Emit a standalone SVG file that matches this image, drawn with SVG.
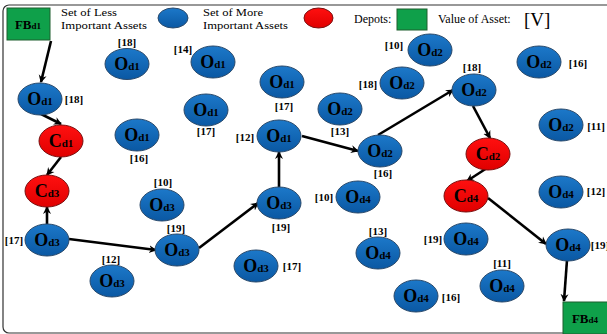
<svg xmlns="http://www.w3.org/2000/svg" width="607" height="334" viewBox="0 0 607 334">
<defs>
<linearGradient id="gb" x1="0" y1="0" x2="0" y2="1"><stop offset="0" stop-color="#1C78C9"/><stop offset="1" stop-color="#0A58A3"/></linearGradient>
<linearGradient id="gr" x1="0" y1="0" x2="0" y2="1"><stop offset="0" stop-color="#FF1010"/><stop offset="1" stop-color="#E00000"/></linearGradient>
<marker id="ah" markerUnits="userSpaceOnUse" markerWidth="9" markerHeight="9" refX="7" refY="4.5" orient="auto"><path d="M0,0.5 L8,4.5 L0,8.5 L2.5,4.5 z" fill="#000"/></marker>
<style>
.b{fill:url(#gb);stroke:#2B4A6B;stroke-width:1}
.r{fill:url(#gr);stroke:#7A1010;stroke-width:1}
.g{fill:#0FA04A;stroke:#1E5E2E;stroke-width:1}
.n{font-family:"Liberation Serif",serif;font-weight:bold;font-size:18px;fill:#000;text-anchor:middle}
.s{font-size:11px}
.l{font-family:"Liberation Serif",serif;font-weight:bold;font-size:11px;fill:#000;text-anchor:middle}
.t{font-family:"Liberation Serif",serif;font-size:12px;fill:#000}
.t2{font-family:"Liberation Serif",serif;font-size:10.5px;fill:#000}
.c{fill:none;stroke:#000;stroke-width:2.6;marker-end:url(#ah)}
</style>
</defs>
<rect x="3" y="5" width="660" height="328" rx="6" fill="#fff" stroke="#333" stroke-width="1.2"/>

<g id="legend">
<text class="t2" x="61" y="16" textLength="56" lengthAdjust="spacingAndGlyphs">Set of Less</text>
<text class="t2" x="61" y="28.5" textLength="86" lengthAdjust="spacingAndGlyphs">Important Assets</text>
<ellipse cx="173" cy="18" rx="15" ry="10" class="b"/>
<text class="t2" x="203" y="16" textLength="60" lengthAdjust="spacingAndGlyphs">Set of More</text>
<text class="t2" x="203" y="28.5" textLength="85" lengthAdjust="spacingAndGlyphs">Important Assets</text>
<ellipse cx="318.5" cy="18" rx="14.5" ry="10" class="r"/>
<text class="t" x="354" y="23">Depots:</text>
<rect x="397" y="9" width="30" height="21" class="g"/>
<text class="t" x="438" y="23">Value of Asset:</text>
<text class="t" x="524" y="26" style="font-size:19px">[V]</text>
</g>

<g id="connectors">
<line class="c" x1="51" y1="41" x2="41" y2="82"/>
<line class="c" x1="41" y1="114" x2="61" y2="124"/>
<line class="c" x1="61" y1="157" x2="47" y2="175"/>
<line class="c" x1="47" y1="224" x2="47" y2="207"/>
<line class="c" x1="69" y1="239" x2="156" y2="250"/>
<line class="c" x1="199" y1="248" x2="258" y2="203"/>
<line class="c" x1="279" y1="187" x2="279" y2="152"/>
<line class="c" x1="302" y1="136" x2="358" y2="151"/>
<line class="c" x1="378" y1="135" x2="453" y2="90"/>
<line class="c" x1="473" y1="106" x2="490" y2="138"/>
<line class="c" x1="487" y1="168" x2="467" y2="181"/>
<line class="c" x1="488" y1="198" x2="546" y2="244"/>
<line class="c" x1="567" y1="260" x2="564" y2="301"/>
</g>

<g id="FBd1"><rect x="7" y="8" width="43" height="32" class="g"/><text class="n" x="28" y="29" style="font-size:13px">FB<tspan class="s" style="font-size:9px">d1</tspan></text></g>
<g id="FBd4"><rect x="563" y="302" width="48" height="32" class="g"/><text class="n" x="585" y="323" style="font-size:13px">FB<tspan class="s" style="font-size:9px">d4</tspan></text></g>

<g id="od1a"><ellipse cx="127" cy="64" rx="22" ry="15.5" class="b"/><text class="n" x="127" y="70">O<tspan class="s">d1</tspan></text><text class="l" x="127" y="46">[18]</text></g>
<g id="od1b"><ellipse cx="213" cy="62" rx="22" ry="16" class="b"/><text class="n" x="213" y="68">O<tspan class="s">d1</tspan></text><text class="l" x="183" y="53">[14]</text></g>
<g id="od1c"><ellipse cx="282" cy="82" rx="22" ry="16" class="b"/><text class="n" x="282" y="88">O<tspan class="s">d1</tspan></text><text class="l" x="284" y="110">[17]</text></g>
<g id="od1d"><ellipse cx="206" cy="110" rx="22" ry="16" class="b"/><text class="n" x="206" y="116">O<tspan class="s">d1</tspan></text><text class="l" x="206" y="135">[17]</text></g>
<g id="od1e"><ellipse cx="137" cy="135" rx="22" ry="16" class="b"/><text class="n" x="137" y="141">O<tspan class="s">d1</tspan></text><text class="l" x="139" y="162">[16]</text></g>
<g id="od1f"><ellipse cx="40" cy="99" rx="22" ry="16" class="b"/><text class="n" x="40" y="105">O<tspan class="s">d1</tspan></text><text class="l" x="74" y="103">[18]</text></g>
<g id="od1g"><ellipse cx="279" cy="136" rx="22" ry="16" class="b"/><text class="n" x="279" y="142">O<tspan class="s">d1</tspan></text><text class="l" x="245" y="141">[12]</text></g>

<g id="od2a"><ellipse cx="430" cy="50" rx="22" ry="16" class="b"/><text class="n" x="430" y="56">O<tspan class="s">d2</tspan></text><text class="l" x="394" y="49">[10]</text></g>
<g id="od2b"><ellipse cx="539" cy="62" rx="22" ry="16" class="b"/><text class="n" x="539" y="68">O<tspan class="s">d2</tspan></text><text class="l" x="578" y="67">[16]</text></g>
<g id="od2c"><ellipse cx="402" cy="83" rx="22" ry="16" class="b"/><text class="n" x="402" y="89">O<tspan class="s">d2</tspan></text><text class="l" x="368" y="88">[18]</text></g>
<g id="od2d"><ellipse cx="340" cy="109" rx="22" ry="16" class="b"/><text class="n" x="340" y="115">O<tspan class="s">d2</tspan></text><text class="l" x="340" y="135">[13]</text></g>
<g id="od2e"><ellipse cx="474" cy="90" rx="22" ry="16" class="b"/><text class="n" x="474" y="96">O<tspan class="s">d2</tspan></text><text class="l" x="472" y="71">[18]</text></g>
<g id="od2f"><ellipse cx="380" cy="151" rx="22" ry="16" class="b"/><text class="n" x="380" y="157">O<tspan class="s">d2</tspan></text><text class="l" x="383" y="177">[16]</text></g>
<g id="od2g"><ellipse cx="561" cy="125" rx="22" ry="16" class="b"/><text class="n" x="561" y="131">O<tspan class="s">d2</tspan></text><text class="l" x="596" y="130">[11]</text></g>

<g id="cd1"><ellipse cx="61" cy="141" rx="22" ry="16" class="r"/><text class="n" x="61" y="147">C<tspan class="s">d1</tspan></text></g>
<g id="cd3"><ellipse cx="47" cy="191" rx="22" ry="16" class="r"/><text class="n" x="47" y="197">C<tspan class="s">d3</tspan></text></g>
<g id="cd2"><ellipse cx="488" cy="154" rx="22" ry="16" class="r"/><text class="n" x="488" y="160">C<tspan class="s">d2</tspan></text></g>
<g id="cd4"><ellipse cx="466" cy="196" rx="22" ry="16" class="r"/><text class="n" x="466" y="202">C<tspan class="s">d4</tspan></text></g>

<g id="od3a"><ellipse cx="47" cy="240" rx="22" ry="16" class="b"/><text class="n" x="47" y="246">O<tspan class="s">d3</tspan></text><text class="l" x="14" y="244">[17]</text></g>
<g id="od3b"><ellipse cx="162" cy="205" rx="22" ry="16" class="b"/><text class="n" x="162" y="211">O<tspan class="s">d3</tspan></text><text class="l" x="163" y="186">[10]</text></g>
<g id="od3c"><ellipse cx="177" cy="250" rx="22" ry="16" class="b"/><text class="n" x="177" y="256">O<tspan class="s">d3</tspan></text><text class="l" x="176" y="232">[19]</text></g>
<g id="od3d"><ellipse cx="279" cy="203" rx="22" ry="16" class="b"/><text class="n" x="279" y="209">O<tspan class="s">d3</tspan></text><text class="l" x="281" y="231">[19]</text></g>
<g id="od3e"><ellipse cx="112" cy="281" rx="22" ry="16" class="b"/><text class="n" x="112" y="287">O<tspan class="s">d3</tspan></text><text class="l" x="111" y="263">[12]</text></g>
<g id="od3f"><ellipse cx="256" cy="266" rx="22" ry="16" class="b"/><text class="n" x="256" y="272">O<tspan class="s">d3</tspan></text><text class="l" x="292" y="270">[17]</text></g>

<g id="od4a"><ellipse cx="358" cy="197" rx="22" ry="16" class="b"/><text class="n" x="358" y="203">O<tspan class="s">d4</tspan></text><text class="l" x="324" y="201">[10]</text></g>
<g id="od4b"><ellipse cx="378" cy="253" rx="22" ry="16" class="b"/><text class="n" x="378" y="259">O<tspan class="s">d4</tspan></text><text class="l" x="378" y="235">[13]</text></g>
<g id="od4c"><ellipse cx="466" cy="239" rx="22" ry="16" class="b"/><text class="n" x="466" y="245">O<tspan class="s">d4</tspan></text><text class="l" x="433" y="243">[19]</text></g>
<g id="od4d"><ellipse cx="416" cy="296" rx="22" ry="16" class="b"/><text class="n" x="416" y="302">O<tspan class="s">d4</tspan></text><text class="l" x="451" y="301">[16]</text></g>
<g id="od4e"><ellipse cx="502" cy="286" rx="22" ry="16" class="b"/><text class="n" x="502" y="292">O<tspan class="s">d4</tspan></text><text class="l" x="502" y="267">[11]</text></g>
<g id="od4f"><ellipse cx="561" cy="192" rx="22" ry="16" class="b"/><text class="n" x="561" y="198">O<tspan class="s">d4</tspan></text><text class="l" x="596" y="195">[12]</text></g>
<g id="od4g"><ellipse cx="568" cy="245" rx="22" ry="16" class="b"/><text class="n" x="568" y="251">O<tspan class="s">d4</tspan></text><text class="l" x="600" y="249">[19]</text></g>
</svg>
